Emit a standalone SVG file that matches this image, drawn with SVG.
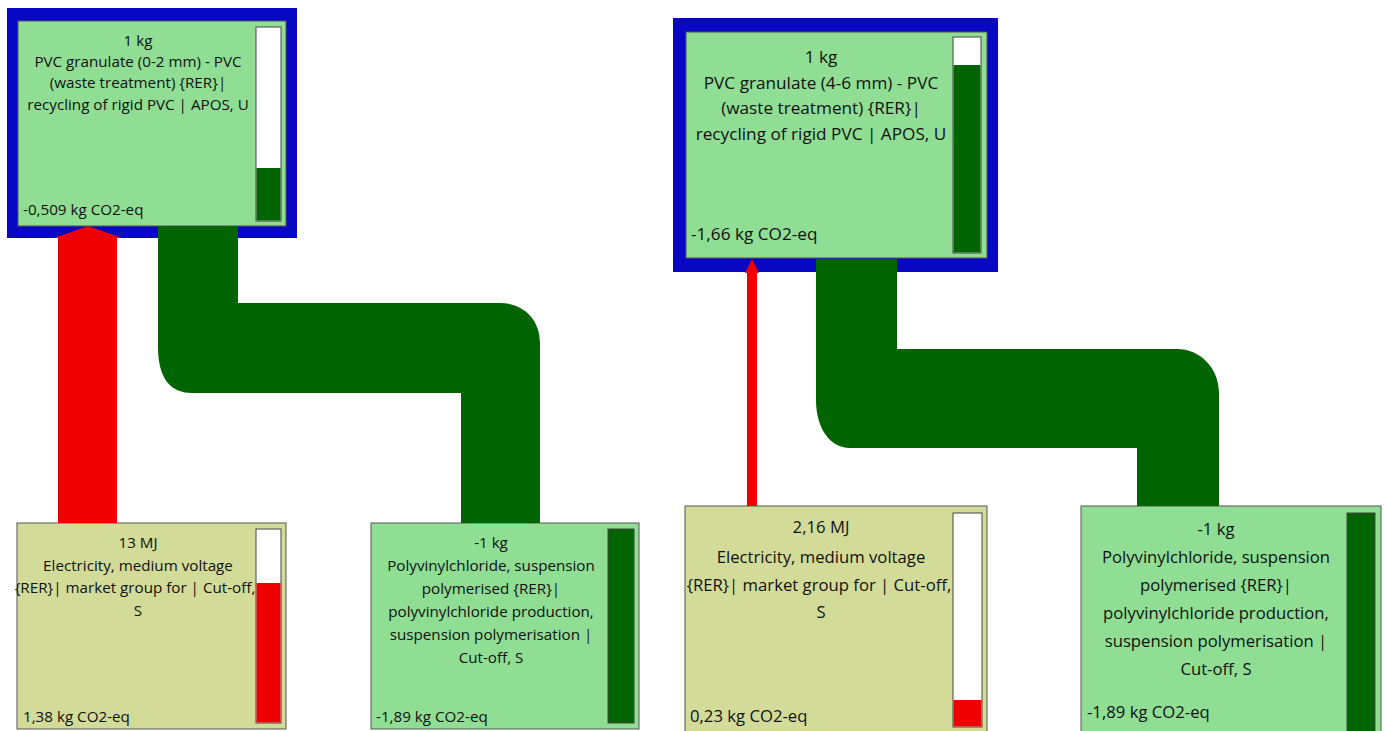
<svg xmlns="http://www.w3.org/2000/svg" width="1386" height="731" viewBox="0 0 1386 731">
<style>
.frame{fill:#0808c4}
.g{fill:#8fde94;stroke:#555;stroke-width:1}
.y{fill:#d2dc98;stroke:#555;stroke-width:1}
.bar{fill:#fff;stroke:#444;stroke-width:1}
.dk{fill:#006400}
.rd{fill:#ee0000}
text{font-family:"Open Sans","Noto Sans",sans-serif;fill:#111}
.c{text-anchor:middle}
.s1{font-size:15.2px}
.s2{font-size:17.2px}
.s3{font-size:16.7px}
</style>
<rect width="1386" height="731" fill="#fff"/>
<g id="node-pvc-0-2">
<rect class="frame" x="7" y="8" width="290" height="230"/>
<rect class="g" x="18" y="21" width="268" height="205"/>
<rect class="bar" x="256" y="27" width="25" height="194"/>
<rect class="dk" x="256.5" y="168" width="24" height="52.5"/>
<text class="s1 c" x="138" y="46">1 kg</text>
<text class="s1 c" x="138" y="67">PVC granulate (0-2 mm) - PVC</text>
<text class="s1 c" x="138" y="88">(waste treatment) {RER}|</text>
<text class="s1 c" x="138" y="110">recycling of rigid PVC | APOS, U</text>
<text class="s1" x="23" y="215">-0,509 kg CO2-eq</text>
</g>
<g id="node-elec-13">
<rect class="y" x="17" y="523" width="269" height="206"/>
<rect class="bar" x="256" y="529" width="25" height="194"/>
<rect class="rd" x="256.5" y="583" width="24" height="139.5"/>
<text class="s1 c" x="138" y="548">13 MJ</text>
<text class="s1 c" x="138" y="571">Electricity, medium voltage</text>
<text class="s1 c" x="135" y="593">{RER}| market group for | Cut-off,</text>
<text class="s1 c" x="138" y="616">S</text>
<text class="s1" x="23" y="722">1,38 kg CO2-eq</text>
</g>
<g id="node-pvc-susp-left">
<rect class="g" x="371" y="523" width="268" height="206"/>
<rect class="dk" x="608" y="529" width="26" height="194" stroke="#444" stroke-width="1"/>
<text class="s1 c" x="491" y="548">-1 kg</text>
<text class="s1 c" x="491" y="571">Polyvinylchloride, suspension</text>
<text class="s1 c" x="491" y="594">polymerised {RER}|</text>
<text class="s1 c" x="491" y="617">polyvinylchloride production,</text>
<text class="s1 c" x="491" y="640">suspension polymerisation |</text>
<text class="s1 c" x="491" y="663">Cut-off, S</text>
<text class="s1" x="376" y="722">-1,89 kg CO2-eq</text>
</g>
<g id="node-pvc-4-6">
<rect class="frame" x="673" y="18" width="325" height="254"/>
<rect class="g" x="686" y="32" width="301" height="226"/>
<rect class="bar" x="953" y="37" width="28" height="216"/>
<rect class="dk" x="953.5" y="65" width="27" height="187.5"/>
<text class="s2 c" x="821" y="63">1 kg</text>
<text class="s2 c" x="821" y="89">PVC granulate (4-6 mm) - PVC</text>
<text class="s2 c" x="821" y="114">(waste treatment) {RER}|</text>
<text class="s2 c" x="821" y="140">recycling of rigid PVC | APOS, U</text>
<text class="s2" x="691" y="240">-1,66 kg CO2-eq</text>
</g>
<g id="node-elec-216">
<rect class="y" x="685" y="506" width="302" height="230"/>
<rect class="bar" x="953" y="513" width="29" height="214"/>
<rect class="rd" x="953.5" y="700" width="28" height="26.5"/>
<text class="s3 c" x="821" y="533">2,16 MJ</text>
<text class="s3 c" x="821" y="563">Electricity, medium voltage</text>
<text class="s3 c" x="819" y="591">{RER}| market group for | Cut-off,</text>
<text class="s3 c" x="821" y="618">S</text>
<text class="s3" x="690" y="722">0,23 kg CO2-eq</text>
</g>
<g id="node-pvc-susp-right">
<rect class="g" x="1081" y="506" width="300" height="230"/>
<rect class="dk" x="1347" y="513" width="28" height="222" stroke="#444" stroke-width="1"/>
<text class="s3 c" x="1216" y="535">-1 kg</text>
<text class="s3 c" x="1216" y="563">Polyvinylchloride, suspension</text>
<text class="s3 c" x="1216" y="591">polymerised {RER}|</text>
<text class="s3 c" x="1216" y="619">polyvinylchloride production,</text>
<text class="s3 c" x="1216" y="647">suspension polymerisation |</text>
<text class="s3 c" x="1216" y="675">Cut-off, S</text>
<text class="s3" x="1087" y="718">-1,89 kg CO2-eq</text>
</g>
<g id="connectors">
<path class="rd" d="M58,523 L58,238 L54,238 L88,226 L122,238 L117,238 L117,523 Z"/>
<path class="dk" d="M158,226 L238,226 L238,303 L500,303 C522,303 540,318 540,343 L540,523 L461,523 L461,393 L192,393 C172,393 158,380 158,347 Z"/>
<path class="rd" d="M747,506 L747,273 L745,273 L752,259 L759,273 L757,273 L757,506 Z"/>
<path class="dk" d="M816,259 L897,259 L897,349 L1177,349 C1200,349 1219,368 1219,393 L1219,506 L1137,506 L1137,448 L850,448 C830,448 816,428 816,400 Z"/>
</g>
</svg>
